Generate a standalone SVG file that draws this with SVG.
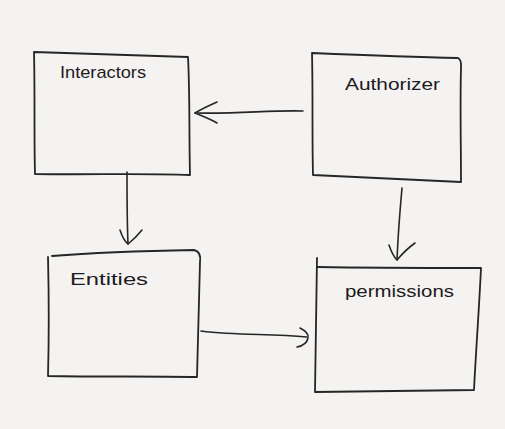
<svg xmlns="http://www.w3.org/2000/svg" width="505" height="429" viewBox="0 0 505 429">
<style>
.box{fill:none;stroke:#262626;stroke-width:1.8;stroke-linejoin:round;stroke-linecap:round}
.con{fill:none;stroke:#262626;stroke-width:1.6;stroke-linecap:round;stroke-linejoin:round}
.lbl{font-family:"Liberation Sans","DejaVu Sans",sans-serif;font-size:17px;fill:#1e1a22}
</style>
<rect width="505" height="429" fill="#f4f3f1"/>
<g id="interactors">
<path class="box" d="M34,52 C70,53 120,55 188,57 C190,95 189,135 190,175 C140,173 90,175 35,174 C34,135 35,95 34,52 Z"/>
<text class="lbl" x="60" y="78" textLength="86" lengthAdjust="spacingAndGlyphs">Interactors</text>
</g>
<g id="authorizer">
<path class="box" d="M312,53 C360,55 410,57 458,58 C462,60 461,64 461,68 C460,105 461,145 461,182 C410,180 360,177 313,175 C312,135 313,95 312,53 Z"/>
<text class="lbl" x="345" y="90" textLength="95" lengthAdjust="spacingAndGlyphs">Authorizer</text>
</g>
<g id="entities">
<path class="box" d="M52,256 C90,253 140,251 194,250 C199,251 201,255 200,262 C199,300 198,340 197,377 C150,376 100,377 48,376 C49,340 49,300 48,257"/>
<text class="lbl" x="70" y="285" textLength="78" lengthAdjust="spacingAndGlyphs">Entities</text>
</g>
<g id="permissions">
<path class="box" d="M317,258 C316,300 316,350 315,392 C370,391 425,391 474,390 C476,350 479,310 481,268 C425,268 370,268 318,267"/>
<text class="lbl" x="345" y="297" textLength="109" lengthAdjust="spacingAndGlyphs">permissions</text>
</g>
<g id="connectors">
<path class="con" d="M303,111 C270,110 240,114 195,113"/>
<path class="con" d="M217,102 C208,106 200,110 195,113 C202,116 210,119 217,123"/>
<path class="con" d="M127,172 C127,195 127,220 128,244"/>
<path class="con" d="M120,230 C122,236 124,241 128,244 C133,240 138,235 142,230"/>
<path class="con" d="M402,188 C400,210 398,235 397,260"/>
<path class="con" d="M389,245 C391,251 393,256 397,260 C402,254 408,248 415,243"/>
<path class="con" d="M201,331 C240,336 270,333 307,337"/>
<path class="con" d="M300,328 C306,331 309,334 308,338 C307,343 302,346 297,347"/>
</g>
</svg>
